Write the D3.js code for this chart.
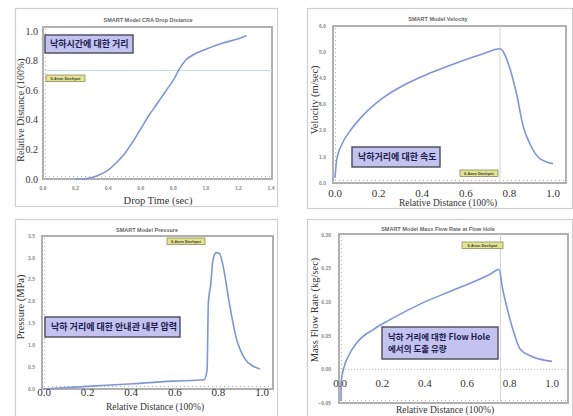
<!DOCTYPE html>
<html>
<head>
<meta charset="utf-8">
<title>SMART Model CRA Drop</title>
<script src="https://d3js.org/d3.v7.min.js"></script>
<style>
  body { margin: 0; background: #fff; }
  svg { display: block; }
</style>
</head>
<body>
<svg id="chart" width="573" height="416"></svg>
<script>
// drop distance vs drop time
var dropTime = [0.20, 0.25, 0.30, 0.35, 0.40, 0.45, 0.50, 0.55, 0.60, 0.65, 0.70, 0.75, 0.80, 0.84, 0.88, 0.92, 1.00, 1.10, 1.20, 1.25];
var dropDist = [0.00, 0.00, 0.01, 0.03, 0.06, 0.11, 0.17, 0.25, 0.34, 0.43, 0.51, 0.59, 0.67, 0.75, 0.81, 0.84, 0.88, 0.92, 0.95, 0.97];

// velocity vs relative distance
var velDist = [0.00, 0.008, 0.03, 0.07, 0.13, 0.22, 0.33, 0.436, 0.56, 0.68, 0.757, 0.80, 0.833, 0.864, 0.894, 0.94, 1.00];
var velocity = [0.20, 0.90, 1.45, 2.00, 2.60, 3.25, 3.80, 4.20, 4.60, 4.94, 5.13, 4.43, 3.40, 2.14, 1.50, 0.93, 0.74];

// pressure vs relative distance
var presDist = [0.00, 0.20, 0.41, 0.59, 0.734, 0.748, 0.754, 0.765, 0.775, 0.79, 0.805, 0.82, 0.85, 0.88, 0.92, 0.96, 0.99];
var pressure = [0.00, 0.06, 0.12, 0.18, 0.21, 0.44, 1.97, 2.40, 2.95, 3.12, 3.10, 2.85, 1.97, 1.20, 0.70, 0.52, 0.46];

// mass flow rate vs relative distance
var flowDist = [0.005, 0.005, 0.016, 0.04, 0.08, 0.16, 0.236, 0.39, 0.55, 0.71, 0.75, 0.767, 0.786, 0.82, 0.85, 0.90, 1.00];
var flowRate = [-0.047, -0.02, 0.00, 0.02, 0.04, 0.06, 0.074, 0.099, 0.12, 0.142, 0.149, 0.12, 0.094, 0.055, 0.03, 0.02, 0.012];

var ticks1X = [0.0, 0.2, 0.4, 0.6, 0.8, 1.0, 1.2, 1.4];
var ticks1Y = [0.0, 0.2, 0.4, 0.6, 0.8, 1.0];
var ticksRel = [0.0, 0.2, 0.4, 0.6, 0.8, 1.0];
var ticks2Y = [0, 1, 2, 3, 4, 5, 6];
var ticks3Y = [0.0, 0.5, 1.0, 1.5, 2.0, 2.5, 3.0, 3.5];
var ticks4Y = [-0.05, 0.00, 0.05, 0.10, 0.15, 0.20];

var dashpotText = "6.4mm Dashpot";
var lineColor = "#7f95d8";
var serif = "'Liberation Serif', 'DejaVu Serif', serif";
var sans = "'Liberation Sans', Arial, sans-serif";
var kfont = "'Noto Sans CJK KR', sans-serif";

var svg = d3.select("#chart");

function drawPanel(p) {
    var g = svg.append("g");

    g.append("rect")
        .attr("x", p.box[0] + 0.5).attr("y", p.box[1] + 0.5)
        .attr("width", p.box[2] - p.box[0]).attr("height", p.box[3] - p.box[1])
        .attr("fill", "#fff").attr("stroke", "#cfcfcf").attr("stroke-width", 1.2);

    var x = d3.scaleLinear().domain(p.xDomain).range(p.xRange);
    var y = d3.scaleLinear().domain(p.yDomain).range(p.yRange);

    // plot frame
    g.append("rect")
        .attr("x", p.plot[0]).attr("y", p.plot[1])
        .attr("width", p.plot[2] - p.plot[0]).attr("height", p.plot[3] - p.plot[1])
        .attr("fill", "#fff").attr("stroke", "#a8a8a8").attr("stroke-width", 1.8);

    // dotted minor ticks along left and bottom
    g.append("line")
        .attr("x1", p.plot[0] + 2.5).attr("x2", p.plot[0] + 2.5)
        .attr("y1", p.plot[1] + 2).attr("y2", p.plot[3] - 2)
        .attr("stroke", "#b0b0b0").attr("stroke-width", 1).attr("stroke-dasharray", "1,3");
    g.append("line")
        .attr("x1", p.plot[0] + 2).attr("x2", p.plot[2] - 2)
        .attr("y1", p.plot[3] - 2.5).attr("y2", p.plot[3] - 2.5)
        .attr("stroke", "#b0b0b0").attr("stroke-width", 1).attr("stroke-dasharray", "1,3");

    if (p.zeroLine) {
        g.append("line")
            .attr("x1", p.plot[0]).attr("x2", p.plot[2])
            .attr("y1", y(0)).attr("y2", y(0))
            .attr("stroke", "#b8b8b8").attr("stroke-width", 1).attr("stroke-dasharray", "1,2");
    }

    // dashpot marker line
    if (p.dashH != null) {
        g.append("line")
            .attr("x1", p.plot[0]).attr("x2", p.plot[2])
            .attr("y1", y(p.dashH)).attr("y2", y(p.dashH))
            .attr("stroke", "#bfe2e4").attr("stroke-width", 1);
    }
    if (p.dashV != null) {
        g.append("line")
            .attr("x1", x(p.dashV)).attr("x2", x(p.dashV))
            .attr("y1", p.plot[1]).attr("y2", p.plot[3])
            .attr("stroke", "#cfd6da").attr("stroke-width", 1);
    }

    // curve
    var pts = p.xs.map(function(v, i) { return [v, p.ys[i]]; });
    g.append("path")
        .datum(pts)
        .attr("fill", "none")
        .attr("stroke", lineColor)
        .attr("stroke-width", 1.6)
        .attr("d", d3.line().x(function(d) { return x(d[0]); }).y(function(d) { return y(d[1]); })
            .curve(d3.curveMonotoneX));

    // title
    g.append("text")
        .attr("x", p.title[1]).attr("y", p.title[2])
        .attr("text-anchor", "middle")
        .style("font-family", sans).style("font-weight", "bold").style("font-size", "5.5px")
        .attr("fill", "#666").text(p.title[0]);

    // x tick labels
    g.selectAll(null).data(p.xTicks).enter().append("text")
        .attr("x", function(d) { return x(d); })
        .attr("y", p.xTickY)
        .attr("text-anchor", "middle")
        .style("font-family", p.bigX ? serif : sans)
        .style("font-weight", p.bigX ? "normal" : "bold")
        .style("font-size", p.bigX ? "11px" : "5px")
        .attr("fill", p.bigX ? "#333" : "#888")
        .text(function(d) { return d3.format(p.xFmt)(d); });

    // y tick labels
    g.selectAll(null).data(p.yTicks).enter().append("text")
        .attr("x", p.yTickX)
        .attr("y", function(d) { return y(d); })
        .attr("dy", "0.35em")
        .attr("text-anchor", "end")
        .style("font-family", p.bigY ? serif : sans)
        .style("font-weight", p.bigY ? "normal" : "bold")
        .style("font-size", p.bigY ? "10px" : "5px")
        .attr("fill", p.bigY ? "#333" : "#888")
        .text(function(d) { return d3.format(p.yFmt)(d); });

    // axis titles
    g.append("text")
        .attr("x", p.xLabel[1]).attr("y", p.xLabel[2])
        .attr("text-anchor", "middle")
        .style("font-family", serif).style("font-size", p.xLabel[3] + "px")
        .attr("fill", "#333").text(p.xLabel[0]);
    g.append("text")
        .attr("transform", "translate(" + p.yLabel[1] + "," + p.yLabel[2] + ") rotate(-90)")
        .attr("text-anchor", "middle")
        .style("font-family", serif).style("font-size", p.yLabel[3] + "px")
        .attr("fill", "#333").text(p.yLabel[0]);

    // dashpot tag
    var dp = p.dashTag;
    g.append("rect")
        .attr("x", dp[0]).attr("y", dp[1]).attr("width", dp[2]).attr("height", 6.5)
        .attr("fill", "#e3e48e").attr("stroke", "#8a8a5a").attr("stroke-width", 0.8);
    g.append("text")
        .attr("x", dp[0] + dp[2] / 2).attr("y", dp[1] + 3.4)
        .attr("dy", "0.35em").attr("text-anchor", "middle")
        .style("font-family", sans).style("font-weight", "bold").style("font-size", "4px")
        .attr("fill", "#444").text(dashpotText);

    // Korean note box
    var nb = p.note;
    g.append("rect")
        .attr("x", nb.x).attr("y", nb.y).attr("width", nb.w).attr("height", nb.h)
        .attr("fill", "#c4c3f0").attr("stroke", "#4a4a5a").attr("stroke-width", 1.4);
    nb.lines.forEach(function(t, i) {
        g.append("text")
            .attr("x", nb.x + nb.pad).attr("y", nb.y + nb.h / 2 + (i - (nb.lines.length - 1) / 2) * 12.8)
            .attr("dy", "0.36em")
            .style("font-family", kfont).style("font-weight", "bold").style("font-size", nb.size + "px")
            .attr("fill", "#1c1c4c").text(t);
    });
}

drawPanel({
    box: [15, 8, 277, 206], plot: [43, 27, 272, 179],
    xDomain: [0, 1.4], xRange: [43, 271], yDomain: [0, 1.03], yRange: [179, 27],
    xs: dropTime, ys: dropDist,
    xTicks: ticks1X, yTicks: ticks1Y, xFmt: ".1f", yFmt: ".1f",
    bigX: false, bigY: true, xTickY: 190, yTickX: 38,
    title: ["SMART Model CRA Drop Distance", 148, 22],
    xLabel: ["Drop Time (sec)", 158, 204, 10.5], yLabel: ["Relative Distance (100%)", 24, 110, 10],
    dashH: 0.735, dashTag: [46, 75, 39],
    note: { x: 45, y: 35, w: 88, h: 18, pad: 5, size: 9, lines: ["낙하시간에 대한 거리"] }
});

drawPanel({
    box: [307, 8, 572, 208], plot: [333, 26, 566, 183],
    xDomain: [0, 1], xRange: [335, 553], yDomain: [0, 6], yRange: [183, 26],
    xs: velDist, ys: velocity,
    xTicks: ticksRel, yTicks: ticks2Y, xFmt: ".1f", yFmt: ".1f",
    bigX: true, bigY: false, xTickY: 197, yTickX: 326,
    title: ["SMART Model Velocity", 438, 21],
    xLabel: ["Relative Distance (100%)", 448, 206, 9.5], yLabel: ["Velocity (m/sec)", 318, 100, 10.5],
    dashV: 0.757, dashTag: [460, 170, 38],
    note: { x: 352, y: 147, w: 88, h: 20, pad: 6, size: 9, lines: ["낙하거리에 대한 속도"] }
});

drawPanel({
    box: [15, 219, 277, 420], plot: [42, 236, 273, 389],
    xDomain: [0, 1], xRange: [44, 262], yDomain: [0, 3.5], yRange: [389, 236],
    xs: presDist, ys: pressure,
    xTicks: ticksRel, yTicks: ticks3Y, xFmt: ".1f", yFmt: ".1f",
    bigX: true, bigY: false, xTickY: 396, yTickX: 35,
    title: ["SMART Model Pressure", 147, 232],
    xLabel: ["Relative Distance (100%)", 155, 410, 9.5], yLabel: ["Pressure (MPa)", 24, 307, 10.5],
    dashTag: [167, 238, 38],
    note: { x: 45, y: 317, w: 135, h: 20, pad: 6, size: 9, lines: ["낙하 거리에 대한 안내관 내부 압력"] }
});

drawPanel({
    box: [307, 219, 572, 420], plot: [339, 234, 568, 403],
    xDomain: [0, 1], xRange: [340, 552], yDomain: [-0.05, 0.20], yRange: [403, 235],
    xs: flowDist, ys: flowRate,
    xTicks: ticksRel, yTicks: ticks4Y, xFmt: ".1f", yFmt: ".2f",
    bigX: true, bigY: false, xTickY: 387, yTickX: 331,
    title: ["SMART Model Mass Flow Rate at Flow Hole", 438, 231],
    xLabel: ["Relative Distance (100%)", 445, 413, 9.5], yLabel: ["Mass Flow Rate (kg/sec)", 318, 310, 10.5],
    zeroLine: true, dashV: 0.757, dashTag: [462, 242, 41],
    note: { x: 382, y: 327, w: 116, h: 32, pad: 6, size: 8.5, lines: ["낙하 거리에 대한 Flow Hole", "에서의 도출 유량"] }
});
</script>
</body>
</html>
